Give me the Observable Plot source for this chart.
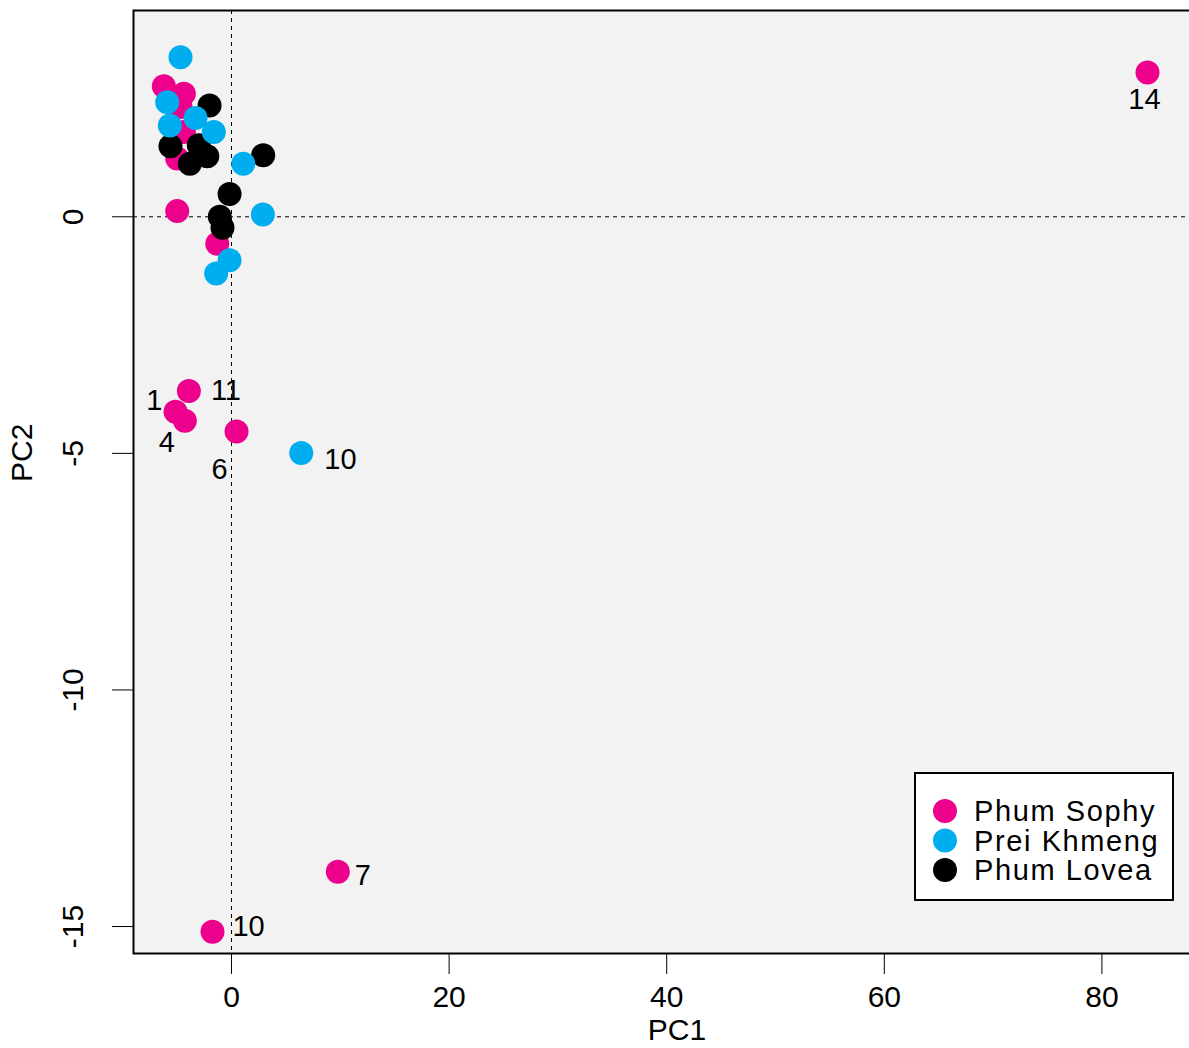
<!DOCTYPE html>
<html><head><meta charset="utf-8">
<script src="https://cdn.jsdelivr.net/npm/d3@7"></script>
<script src="https://cdn.jsdelivr.net/npm/@observablehq/plot@0.6"></script>
<style>
html,body{margin:0;padding:0;background:#fff;overflow:hidden;}
#wrap{position:relative;width:1189px;height:1048px;overflow:hidden;}
#wrap svg{display:block;max-width:none !important;}
#legend{position:absolute;left:914px;top:772px;}
</style></head><body><div id="wrap"></div>
<script>
const groups = ["Phum Sophy", "Prei Khmeng", "Phum Lovea"];
const colors = ["#EC008C", "#00AEEF", "#000000"];

// Phum Sophy
const sophyPC1 = [-6.22, -4.38, -4.69, -4.38, -4.99, -4.99, -1.31, -3.92, -5.15, -4.29, 0.46, 9.77, -1.75, 84.19];
const sophyPC2 = [2.76, 2.60, 2.32, 1.79, 1.23, 0.12, -0.57, -3.68, -4.12, -4.31, -4.54, -13.84, -15.11, 3.05];
const sophyLab = [null, null, null, null, null, null, null, "11", "1", "4", "6", "7", "10", "14"];

// Prei Khmeng
const preiPC1 = [-4.69, -5.91, -3.31, -5.67, -1.63, 1.08, 2.88, -0.18, -1.41, 6.41];
const preiPC2 = [3.37, 2.42, 2.09, 1.93, 1.79, 1.12, 0.05, -0.92, -1.20, -4.99];
const preiLab = [null, null, null, null, null, null, null, null, null, "10"];

// Phum Lovea
const loveaPC1 = [-2.02, -5.61, -3.01, -2.23, -3.83, 2.91, -0.18, -1.08, -0.83];
const loveaPC2 = [2.35, 1.49, 1.51, 1.28, 1.12, 1.30, 0.48, 0.00, -0.23];
const loveaLab = [null, null, null, null, null, null, null, null, null];

const xTicks = [0, 20, 40, 60, 80];
const yTicks = [0, -5, -10, -15];

// label placement (style): [dx, dy, textAnchor] for each labelled point
const labelStyle = {
  "Phum Sophy|11": [22, 0, "start"],
  "Phum Sophy|1": [-13, -11, "end"],
  "Phum Sophy|4": [-10, 22, "end"],
  "Phum Sophy|6": [-9, 38, "end"],
  "Phum Sophy|7": [17, 4, "start"],
  "Phum Sophy|10": [20, -5, "start"],
  "Phum Sophy|14": [-3, 27, "middle"],
  "Prei Khmeng|10": [23, 7, "start"]
};

function rows(group, xs, ys, labs) {
  return xs.map((x, i) => ({group, pc1: x, pc2: ys[i], label: labs[i]}));
}
const sophy = rows(groups[0], sophyPC1, sophyPC2, sophyLab);
const prei = rows(groups[1], preiPC1, preiPC2, preiLab);
const lovea = rows(groups[2], loveaPC1, loveaPC2, loveaLab);
const data = [...sophy, ...lovea, ...prei];
const labelled = data.filter(d => d.label);

const font = '"Liberation Sans", Arial, Helvetica, sans-serif';

const textMarks = labelled.map(d => {
  const [dx, dy, anchor] = labelStyle[d.group + "|" + d.label];
  return Plot.text([d], {x: "pc1", y: "pc2", text: "label", dx, dy, textAnchor: anchor, fontSize: 29, fill: "#000"});
});

const chart = Plot.plot({
  width: 1225,
  height: 1048,
  marginLeft: 133,
  marginRight: 5,
  marginTop: 10,
  marginBottom: 95,
  style: {fontFamily: font, background: "#fff", maxWidth: "none"},
  x: {domain: [-9.01, 90.9], axis: null},
  y: {domain: [-15.57, 4.36], axis: null},
  color: {domain: groups, range: colors},
  marks: [
    Plot.frame({fill: "#f2f2f2", stroke: "none"}),
    Plot.ruleX([0], {stroke: "#000", strokeWidth: 1, strokeDasharray: "4,4"}),
    Plot.ruleY([0], {stroke: "#000", strokeWidth: 1, strokeDasharray: "4,4"}),
    Plot.dot(data, {x: "pc1", y: "pc2", r: 12, fill: d => d.group, stroke: "none"}),
    ...textMarks,
    Plot.frame({stroke: "#000", strokeWidth: 2, fill: "none"}),
    Plot.axisX({ticks: xTicks, tickSize: 21, tickPadding: 11, fontSize: 30, label: null, tickFormat: d => String(d), stroke: "#000"}),
    Plot.axisY({ticks: yTicks, tickSize: 21, tickFormat: () => "", label: null, stroke: "#000"}),
    Plot.text(yTicks, {y: d => d, text: d => String(d), frameAnchor: "left", dx: -60, rotate: -90, fontSize: 30, textAnchor: "middle", lineAnchor: "middle", fill: "#000"}),
    Plot.text(["PC1"], {frameAnchor: "bottom", dy: 77, fontSize: 30, lineAnchor: "middle", fill: "#000"}),
    Plot.text(["PC2"], {frameAnchor: "left", dx: -111, rotate: -90, fontSize: 30, lineAnchor: "middle", fill: "#000"})
  ]
});
chart.style.maxWidth = "none";
const wrap = document.getElementById("wrap");
wrap.appendChild(chart);

// legend
const lg = d3.create("svg").attr("id", "legend").attr("width", 262).attr("height", 130)
  .style("font-family", font);
lg.append("rect").attr("x", 1).attr("y", 1).attr("width", 258).attr("height", 127)
  .attr("fill", "#fff").attr("stroke", "#000").attr("stroke-width", 2);
groups.forEach((g, i) => {
  const cy = 39 + i * 29.5;
  lg.append("circle").attr("cx", 31).attr("cy", cy).attr("r", 12).attr("fill", colors[i]);
  lg.append("text").attr("x", 60).attr("y", cy).attr("dy", "0.35em").attr("font-size", 29)
    .attr("letter-spacing", "1.6px").attr("fill", "#000").text(g);
});
wrap.appendChild(lg.node());
</script>
</body></html>
